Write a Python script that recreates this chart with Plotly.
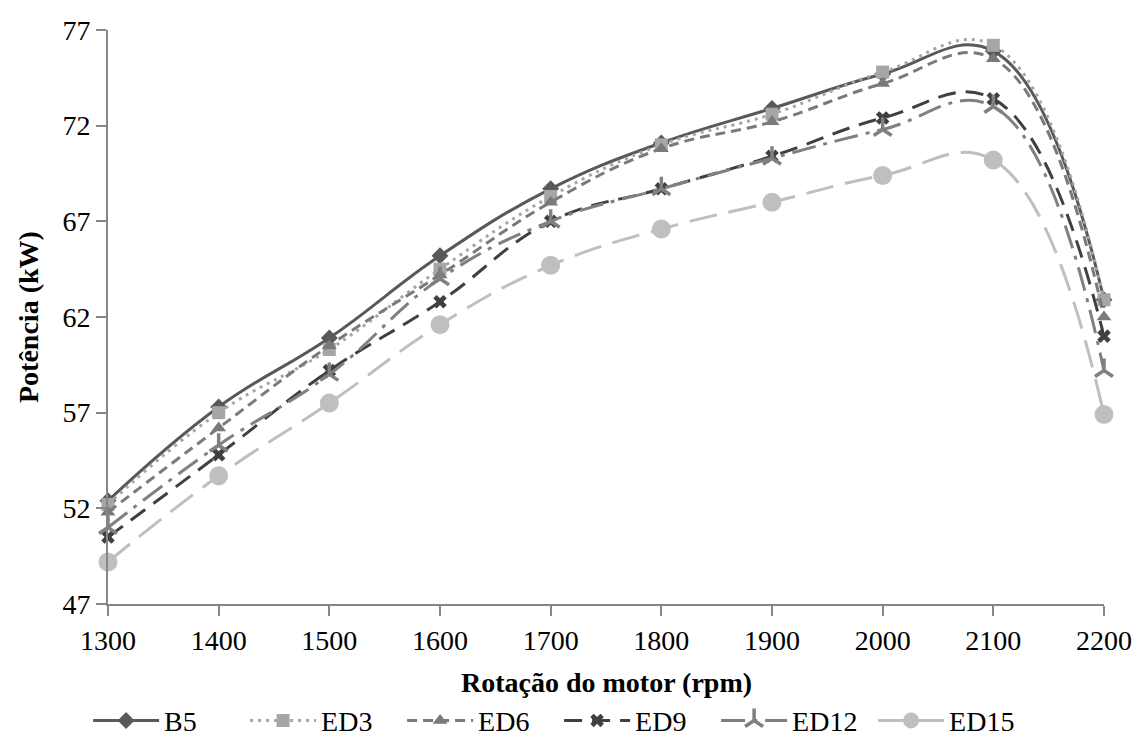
import plotly.graph_objects as go

rpm = [1300, 1400, 1500, 1600, 1700, 1800, 1900, 2000, 2100, 2200]
B5 = [52.4, 57.3, 60.9, 65.2, 68.7, 71.1, 72.9, 74.7, 75.9, 62.9]
ED3 = [52.2, 57.0, 60.3, 64.5, 68.3, 71.0, 72.6, 74.8, 76.2, 62.9]
ED6 = [51.8, 56.2, 60.5, 64.2, 68.0, 70.8, 72.2, 74.2, 75.5, 62.0]
ED9 = [50.5, 54.8, 59.2, 62.8, 67.0, 68.7, 70.4, 72.4, 73.4, 61.0]
ED12 = [51.0, 55.3, 59.0, 64.0, 67.0, 68.7, 70.3, 71.8, 73.0, 59.2]
ED15 = [49.2, 53.7, 57.5, 61.6, 64.7, 66.6, 68.0, 69.4, 70.2, 56.9]

series = [
    ("B5", B5, "#595959", "solid", "diamond", 13),
    ("ED3", ED3, "#a6a6a6", "3px,5px", "square", 13),
    ("ED6", ED6, "#7a7a7a", "10px,6px", "triangle-up", 13),
    ("ED9", ED9, "#404040", "18px,10px", "x", 12),
    ("ED12", ED12, "#808080", "24px,8px,4px,8px", "y-up-open", 15),
    ("ED15", ED15, "#bfbfbf", "28px,12px", "circle", 19),
]

fig = go.Figure()
for name, vals, col, dash, sym, size in series:
    marker = dict(symbol=sym, size=size, color=col)
    if sym.endswith("open"):
        marker["line"] = dict(color=col, width=3.5)
    else:
        marker["line"] = dict(width=0)
    fig.add_trace(go.Scatter(
        x=rpm, y=vals, name=name, mode="lines+markers",
        line=dict(color=col, width=3, dash=dash, shape="spline", smoothing=1.2),
        marker=marker, cliponaxis=False,
    ))

font_family = "Liberation Serif, Times New Roman, serif"
fig.update_layout(
    width=1141, height=740,
    margin=dict(l=108, r=37, t=30, b=136, autoexpand=False),
    plot_bgcolor="white", paper_bgcolor="white",
    font=dict(family=font_family, size=28, color="black"),
    showlegend=True,
    legend=dict(orientation="h", x=0.49, xanchor="center", xref="container",
                yref="container", y=0.026, yanchor="middle", font=dict(size=28),
                itemwidth=66, entrywidth=76, entrywidthmode="pixels",
                tracegroupgap=0),
    xaxis=dict(
        range=[1300, 2200], tickmode="linear", tick0=1300, dtick=100,
        showline=True, linecolor="#868686", linewidth=2,
        ticks="outside", ticklen=10, tickcolor="#868686", tickwidth=2,
        showgrid=False, zeroline=False,
        tickfont=dict(size=28),
    ),
    yaxis=dict(
        range=[47, 77], tickmode="linear", tick0=47, dtick=5,
        showline=True, linecolor="#868686", linewidth=2,
        ticks="outside", ticklen=10, tickcolor="#868686", tickwidth=2,
        showgrid=False, zeroline=False,
        tickfont=dict(size=28),
    ),
    annotations=[
        dict(text="<b>Rotação do motor (rpm)</b>", xref="paper", yref="paper",
             x=0.5, y=-(682 - 604) / 574, xanchor="center", yanchor="middle",
             showarrow=False, font=dict(size=28)),
        dict(text="<b>Potência (kW)</b>", xref="paper", yref="paper",
             x=(28 - 108) / 996, y=0.5, xanchor="center", yanchor="middle",
             textangle=-90, showarrow=False, font=dict(size=28)),
    ],
)

fig.write_html("out.html", config={"displayModeBar": False},
               post_script="document.body.style.margin='0';")
